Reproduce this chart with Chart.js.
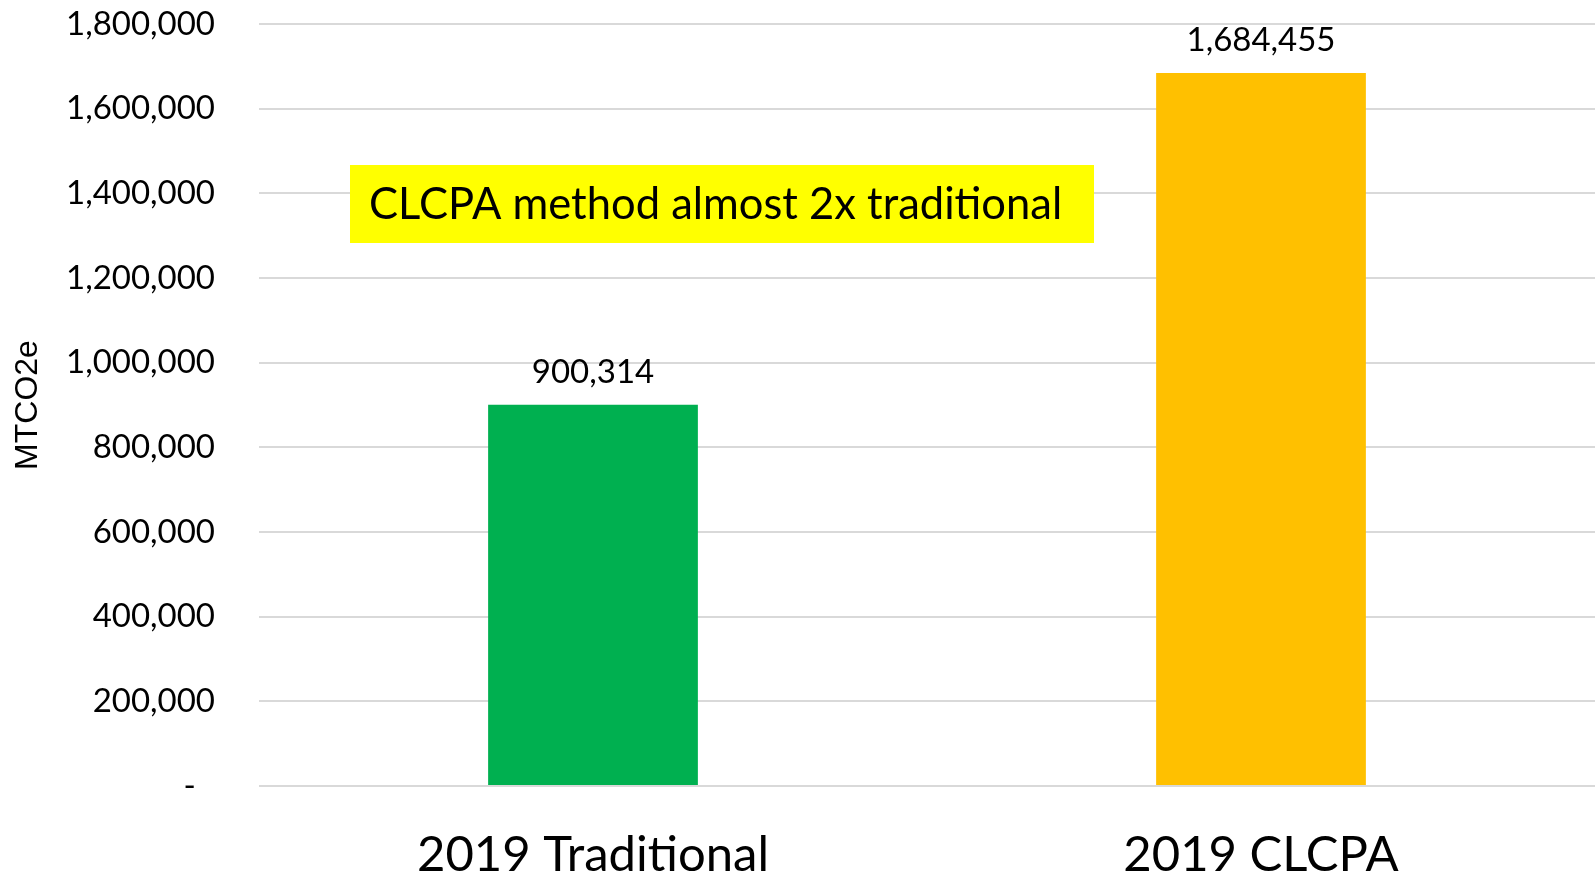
<!DOCTYPE html>
<html>
<head>
<meta charset="utf-8">
<script src="https://cdn.jsdelivr.net/npm/chart.js@4"></script>
<style>
  html, body { margin: 0; padding: 0; background: #fff; }
  #wrap { width: 1595px; height: 875px; }
</style>
</head>
<body>
<div id="wrap"><canvas id="emissionsChart"></canvas></div>
<script>
const categories = ["2019 Traditional", "2019 CLCPA"];
const emissions = [900314, 1684455];
const yMax = 1800000;
const yStep = 200000;
const note = "CLCPA method almost 2x traditional";

const barColors = ["#00B050", "#FFC000"];
const FONT = "Lato, 'Open Sans', sans-serif";

const fmt = v => v.toLocaleString("en-US");

// value labels above each bar
const valueLabels = {
  id: "valueLabels",
  afterDatasetsDraw(chart) {
    const ctx = chart.ctx;
    const meta = chart.getDatasetMeta(0);
    ctx.save();
    ctx.font = "33px " + FONT;
    ctx.fillStyle = "#000";
    ctx.textAlign = "center";
    ctx.textBaseline = "alphabetic";
    meta.data.forEach((bar, i) => {
      ctx.fillText(fmt(emissions[i]), bar.x, bar.y - 22);
    });
    ctx.restore();
  }
};

// yellow callout box
const callout = {
  id: "callout",
  afterDraw(chart) {
    const ctx = chart.ctx;
    ctx.save();
    ctx.fillStyle = "#FFFF00";
    ctx.fillRect(350, 165, 744, 78);
    ctx.font = "43.5px " + FONT;
    ctx.fillStyle = "#000";
    ctx.textAlign = "left";
    ctx.textBaseline = "middle";
    ctx.fillText(note, 369, 205);
    ctx.restore();
  }
};

new Chart(document.getElementById("emissionsChart"), {
  type: "bar",
  data: {
    labels: categories,
    datasets: [{
      data: emissions,
      backgroundColor: barColors,
      barPercentage: 1,
      categoryPercentage: 0.314
    }]
  },
  options: {
    responsive: true,
    maintainAspectRatio: false,
    animation: false,
    layout: { padding: { top: 24, right: 0, left: 0, bottom: 0 } },
    plugins: {
      legend: { display: false },
      tooltip: { enabled: false }
    },
    scales: {
      x: {
        grid: { display: false, drawTicks: false },
        border: { display: false },
        ticks: {
          color: "#000",
          padding: 40,
          font: { family: FONT, size: 49 }
        },
        afterFit(scale) { scale.height = 89; }
      },
      y: {
        min: 0,
        max: yMax,
        grid: {
          color: "#d9d9d9",
          lineWidth: 2,
          drawTicks: true,
          tickLength: 44,
          tickColor: "rgba(0,0,0,0)"
        },
        border: { display: false },
        ticks: {
          stepSize: yStep,
          color: "#000",
          padding: 0,
          font: { family: FONT, size: 33 },
          callback: v => v === 0 ? "-\u2007" : fmt(v)
        },
        title: {
          display: true,
          text: "MTCO2e",
          color: "#000",
          padding: { top: 9, bottom: 0 },
          font: { family: "'Liberation Sans', Arial, sans-serif", size: 32 }
        },
        afterFit(scale) { scale.width = 259; }
      }
    }
  },
  plugins: [valueLabels, callout]
});
</script>
</body>
</html>
